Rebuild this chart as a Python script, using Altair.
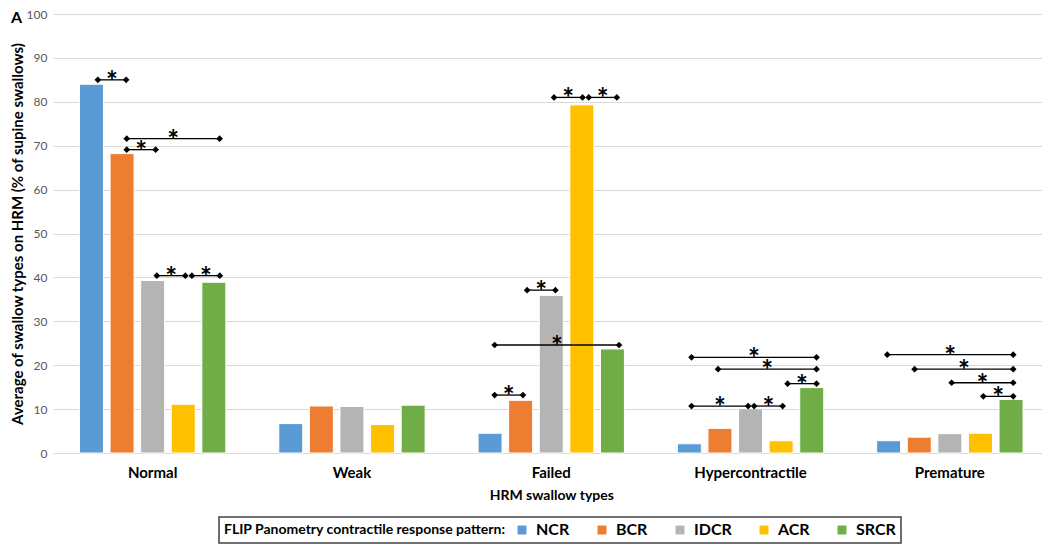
import altair as alt
import pandas as pd

# ---------------- data ----------------
categories = ["Normal", "Weak", "Failed", "Hypercontractile", "Premature"]
series = ["NCR", "BCR", "IDCR", "ACR", "SRCR"]
colors = ["#5B9BD5", "#ED7D31", "#B4B4B4", "#FFC000", "#70AD47"]

ncr = [84.0, 6.7, 4.5, 2.1, 2.8]
bcr = [68.2, 10.7, 12.0, 5.6, 3.6]
idcr = [39.3, 10.6, 35.9, 10.1, 4.4]
acr = [11.1, 6.5, 79.3, 2.8, 4.5]
srcr = [38.9, 10.9, 23.7, 14.9, 12.2]

y_ticks = [0, 10, 20, 30, 40, 50, 60, 70, 80, 90, 100]

# significance brackets (x in category units: group i spans [i, i+1])
br_x1 = [0.225, 0.370, 0.370, 0.521, 0.697,
         2.514, 2.688, 2.379, 2.216, 2.216,
         3.204, 3.337, 3.686, 3.204, 3.518,
         4.186, 4.323, 4.509, 4.668]
br_x2 = [0.367, 0.836, 0.515, 0.664, 0.837,
         2.657, 2.829, 2.521, 2.840, 2.358,
         3.831, 3.831, 3.831, 3.488, 3.661,
         4.818, 4.818, 4.818, 4.818]
br_y = [85.0, 71.6, 69.1, 40.4, 40.4,
        81.0, 81.0, 37.1, 24.6, 13.2,
        21.8, 19.1, 15.8, 10.7, 10.7,
        22.4, 19.1, 16.0, 12.9]

# ---------------- tables ----------------
rows = []
for ci, cat in enumerate(categories):
    for s, vals in zip(series, [ncr, bcr, idcr, acr, srcr]):
        rows.append({"type": cat, "pattern": s, "value": vals[ci]})
bars_df = pd.DataFrame(rows)

br_df = pd.DataFrame({"x1": br_x1, "x2": br_x2, "value": br_y})
br_df["xm"] = (br_df["x1"] + br_df["x2"]) / 2
pts_df = pd.DataFrame({"x": br_x1 + br_x2, "value": br_y + br_y})

FONT = "Lato"
X_RANGE = [0, 996.5]
Y_TITLE = "Average of swallow types on HRM (% of supine swallows)"
yscale = alt.Scale(domain=[0, 100])
qx = alt.Scale(domain=[0, 5], range=X_RANGE)

bars = alt.Chart(bars_df).mark_bar(stroke="white", strokeWidth=1).encode(
    x=alt.X("type:N", sort=categories,
            scale=alt.Scale(range=X_RANGE, paddingInner=0, paddingOuter=0),
            axis=alt.Axis(title="HRM swallow types", labelAngle=0, ticks=False,
                          domain=False, labelFont=FONT, labelFontSize=15,
                          labelFontWeight="bold", labelColor="#000000",
                          labelPadding=12, titleFont=FONT, titleFontSize=14,
                          titleFontWeight="bold", titleColor="#000000",
                          titlePadding=8)),
    xOffset=alt.XOffset("pattern:N", sort=series,
                        scale=alt.Scale(paddingInner=0.216, paddingOuter=0.865)),
    y=alt.Y("value:Q", scale=yscale,
            axis=alt.Axis(title=Y_TITLE, values=y_ticks, ticks=False, domain=False,
                          labelFont=FONT, labelFontSize=12, labelColor="#595959",
                          labelPadding=6, gridColor="#D9D9D9", gridWidth=1,
                          titleFont=FONT, titleFontSize=15, titleFontWeight="bold",
                          titleColor="#000000", titlePadding=1)),
    color=alt.Color("pattern:N", sort=series,
                    scale=alt.Scale(domain=series, range=colors),
                    legend=alt.Legend(title="FLIP Panometry contractile response pattern:",
                                      orient="none", legendX=166, legendY=503,
                                      direction="horizontal", titleOrient="left",
                                      titleLimit=500)),
)

rules = alt.Chart(br_df).mark_rule(color="#000000", strokeWidth=1.3).encode(
    x=alt.X("x1:Q", scale=qx, axis=None),
    x2="x2:Q",
    y=alt.Y("value:Q", scale=yscale, title=Y_TITLE),
)

diamonds = alt.Chart(pts_df).mark_point(shape="diamond", filled=True, size=45,
                                        color="#000000", opacity=1).encode(
    x=alt.X("x:Q", scale=qx, axis=None),
    y=alt.Y("value:Q", scale=yscale, title=Y_TITLE),
)

stars = alt.Chart(br_df).mark_text(text="*", font=FONT, fontSize=28, dy=11,
                                   fontWeight="bold", baseline="alphabetic",
                                   fill="#000000").encode(
    x=alt.X("xm:Q", scale=qx, axis=None),
    y=alt.Y("value:Q", scale=yscale, title=Y_TITLE),
)

label_a = alt.Chart(pd.DataFrame({"t": ["A"]})).mark_text(
    font=FONT, fontSize=16, fontWeight="bold", align="left", baseline="top",
    color="#000000").encode(x=alt.value(-42), y=alt.value(-4), text="t:N")

chart = alt.layer(bars, rules, diamonds, stars, label_a).resolve_scale(
    x="independent"
).properties(
    width=987, height=439,
    autosize=alt.AutoSizeParams(type="none"),
    padding={"left": 45, "top": 6, "right": 2, "bottom": 93},
).configure_view(stroke=None).configure_legend(
    strokeColor="#404040", strokeWidth=1.5, padding=5, fillColor="#FFFFFF",
    symbolType="square", symbolSize=80, symbolStrokeWidth=0,
    labelFont=FONT, labelFontSize=16, labelFontWeight="bold", labelColor="#000000",
    labelOffset=6, columnPadding=24,
    titleFont=FONT, titleFontSize=14, titleFontWeight="bold", titleColor="#000000",
    titlePadding=8,
)

chart.save("out.html", embed_options={"renderer": "svg", "actions": False})
